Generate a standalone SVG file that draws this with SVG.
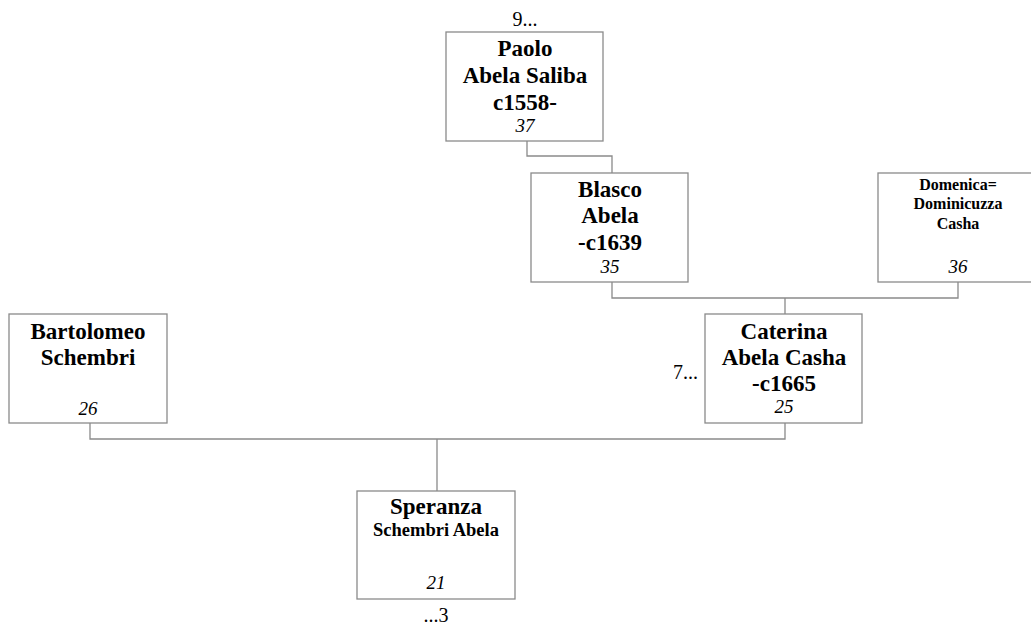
<svg xmlns="http://www.w3.org/2000/svg" width="1031" height="628" viewBox="0 0 1031 628">
<style>
.box{fill:#fff;stroke:#8a8a8a;stroke-width:1.3}
.con{fill:none;stroke:#8a8a8a;stroke-width:1.3}
text{font-family:"Liberation Serif","Times New Roman",serif;fill:#000;text-anchor:middle}
.n{font-weight:bold;font-size:23px}
.s{font-weight:bold;font-size:16px}
.s2{font-weight:bold;font-size:18.5px}
.num{font-style:italic;font-size:19px}
.lbl{font-size:20px}
</style>
<rect width="1031" height="628" fill="#fff"/>
<g id="connectors">
<path class="con" d="M527,141 V156 H612 V173"/>
<path class="con" d="M612,282 V298 H958 V282 M785,298 V314"/>
<path class="con" d="M90,423 V439 H785 V423 M437,439 V491"/>
</g>
<g id="paolo">
<rect class="box" x="446" y="32" width="157" height="109"/>
<text class="lbl" x="525" y="26">9...</text>
<text class="n" x="525" y="56">Paolo</text>
<text class="n" x="525" y="83">Abela Saliba</text>
<text class="n" x="525" y="110">c1558-</text>
<text class="num" x="525" y="132">37</text>
</g>
<g id="blasco">
<rect class="box" x="531" y="173" width="157" height="109"/>
<text class="n" x="610" y="197">Blasco</text>
<text class="n" x="610" y="223">Abela</text>
<text class="n" x="610" y="250">-c1639</text>
<text class="num" x="610" y="273">35</text>
</g>
<g id="domenica">
<rect class="box" x="878" y="173" width="157" height="109"/>
<text class="s" x="958" y="190">Domenica=</text>
<text class="s" x="958" y="209">Dominicuzza</text>
<text class="s" x="958" y="229">Casha</text>
<text class="num" x="958" y="273">36</text>
</g>
<g id="bartolomeo">
<rect class="box" x="9" y="314" width="158" height="109"/>
<text class="n" x="88" y="339">Bartolomeo</text>
<text class="n" x="88" y="365">Schembri</text>
<text class="num" x="88" y="415">26</text>
</g>
<g id="caterina">
<rect class="box" x="705" y="314" width="157" height="109"/>
<text class="lbl" x="698" y="379" style="text-anchor:end">7...</text>
<text class="n" x="784" y="339">Caterina</text>
<text class="n" x="784" y="365">Abela Casha</text>
<text class="n" x="784" y="391">-c1665</text>
<text class="num" x="784" y="413">25</text>
</g>
<g id="speranza">
<rect class="box" x="357" y="491" width="158" height="108"/>
<text class="n" x="436" y="514">Speranza</text>
<text class="s2" x="436" y="536">Schembri Abela</text>
<text class="num" x="436" y="589">21</text>
<text class="lbl" x="436" y="622">...3</text>
</g>
</svg>
